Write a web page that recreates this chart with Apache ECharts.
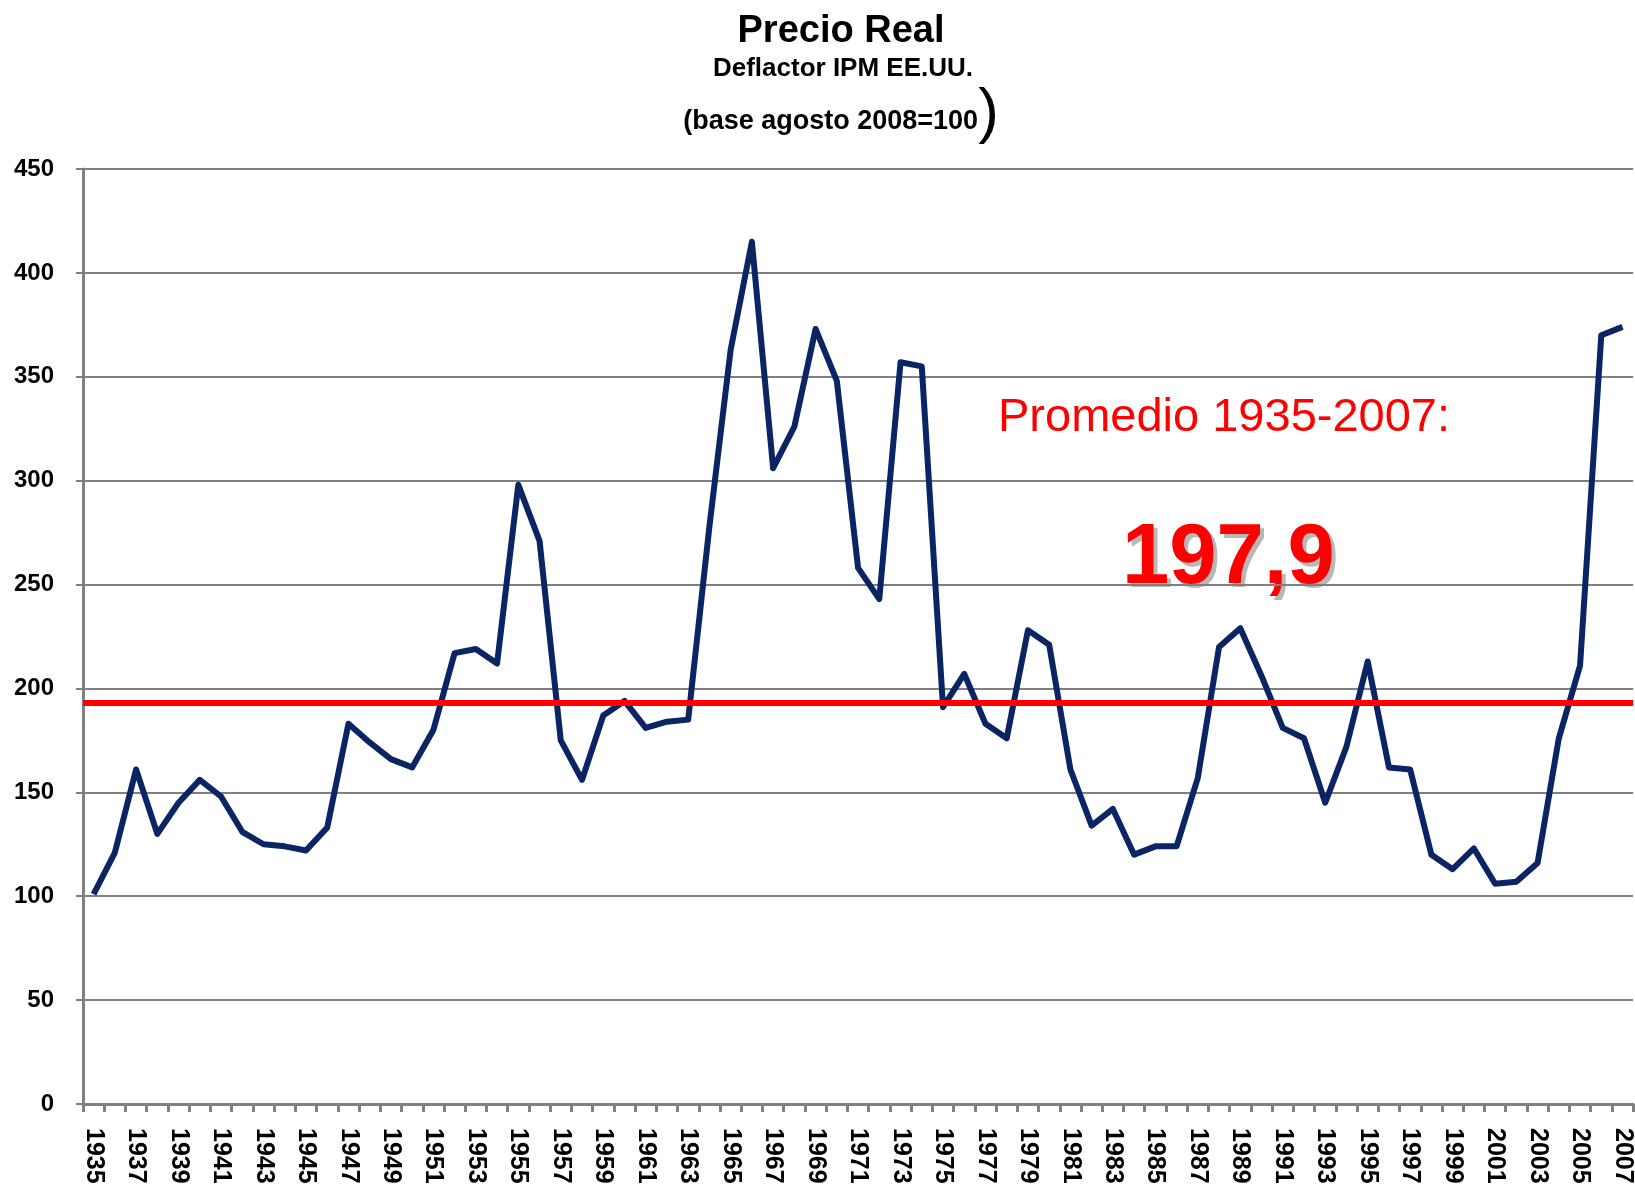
<!DOCTYPE html>
<html>
<head>
<meta charset="utf-8">
<script src="https://cdn.jsdelivr.net/npm/echarts@6/dist/echarts.min.js"></script>
<style>
html,body{margin:0;padding:0;background:#fff;}
#chart{width:1635px;height:1191px;}
</style>
</head>
<body>
<div id="chart"></div>
<script>
const years = ['1935','1936','1937','1938','1939','1940','1941','1942','1943','1944','1945','1946','1947','1948','1949','1950','1951','1952','1953','1954','1955','1956','1957','1958','1959','1960','1961','1962','1963','1964','1965','1966','1967','1968','1969','1970','1971','1972','1973','1974','1975','1976','1977','1978','1979','1980','1981','1982','1983','1984','1985','1986','1987','1988','1989','1990','1991','1992','1993','1994','1995','1996','1997','1998','1999','2000','2001','2002','2003','2004','2005','2006','2007'];
const realPrice = [101,121,161,130,145,156,148,131,125,124,122,133,183,174,166,162,180,217,219,212,298,271,175,156,187,194,181,184,185,278,363,415,306,326,373,348,258,243,357,355,191,207,183,176,228,221,161,134,142,120,124,124,157,220,229,206,181,176,145,172,213,162,161,120,113,123,106,107,116,176,211,370,374];
const averageLineLevel = 193;
const averageText = 'Promedio 1935-2007:';
const averageValueText = '197,9';
const yTicks = {min: 0, max: 450, interval: 50};
const titleLines = ['Precio Real', 'Deflactor IPM EE.UU.', '(base agosto 2008=100'];

const chart = echarts.init(document.getElementById('chart'));
const sans = "'Liberation Sans',Arial,sans-serif";
chart.setOption({
  animation: false,
  backgroundColor: '#ffffff',
  title: [
    {text: titleLines[0], left: 836, top: 8, textAlign: 'center',
     textStyle: {fontFamily: sans, fontWeight: 'bold', fontSize: 38, color: '#000'}},
    {text: titleLines[1], left: 838, top: 51, textAlign: 'center',
     textStyle: {fontFamily: sans, fontWeight: 'bold', fontSize: 26, color: '#000'}},
    {text: '{a|' + titleLines[2] + '}{b|)}', left: 836, top: 80, textAlign: 'center',
     textStyle: {fontWeight: 'normal', rich: {
       a: {fontFamily: sans, fontWeight: 'bold', fontSize: 27, color: '#000', verticalAlign: 'bottom', lineHeight: 60, padding:[0,0,10,0]},
       b: {fontFamily: sans, fontWeight: 'normal', fontSize: 62, color: '#000', verticalAlign: 'bottom', lineHeight: 60}
     }}}
  ],
  grid: {left: 83, right: 0, top: 169, bottom: 87, containLabel: false},
  xAxis: {
    type: 'category',
    data: years,
    boundaryGap: true,
    axisLine: {show: true, lineStyle: {color: '#808080', width: 3}},
    axisTick: {show: true, interval: 0, length: 8, lineStyle: {color: '#808080', width: 3}},
    axisLabel: {interval: 1, rotate: -90, margin: 24, fontFamily: sans, fontWeight: 'bold', fontSize: 25, color: '#000'},
    splitLine: {show: false}
  },
  yAxis: {
    type: 'value',
    min: yTicks.min, max: yTicks.max, interval: yTicks.interval,
    axisLine: {show: true, lineStyle: {color: '#808080', width: 3}},
    axisTick: {show: true, length: 7, lineStyle: {color: '#808080', width: 2}},
    axisLabel: {margin: 29, fontFamily: sans, fontWeight: 'bold', fontSize: 24, color: '#000'},
    splitLine: {show: true, lineStyle: {color: '#808080', width: 2}}
  },
  series: [{
    type: 'line',
    data: realPrice,
    symbol: 'none',
    smooth: false,
    lineStyle: {color: '#0b2463', width: 6, join: 'round'},
    markLine: {
      silent: true,
      symbol: 'none',
      label: {show: false},
      lineStyle: {color: '#ff0000', width: 6, type: 'solid'},
      data: [{yAxis: averageLineLevel}]
    }
  }],
  graphic: [
    {type: 'text', left: 998, top: 395, style: {text: averageText, fill: '#ff0000', font: "normal 47px 'Liberation Sans', Arial, sans-serif"}},
    {type: 'text', left: 1126, top: 521, style: {text: averageValueText, fill: '#b8b8b8', font: "bold 85px 'Liberation Sans', Arial, sans-serif"}},
    {type: 'text', left: 1122, top: 517, style: {text: averageValueText, fill: '#ff0000', font: "bold 85px 'Liberation Sans', Arial, sans-serif"}}
  ]
});
</script>
</body>
</html>
